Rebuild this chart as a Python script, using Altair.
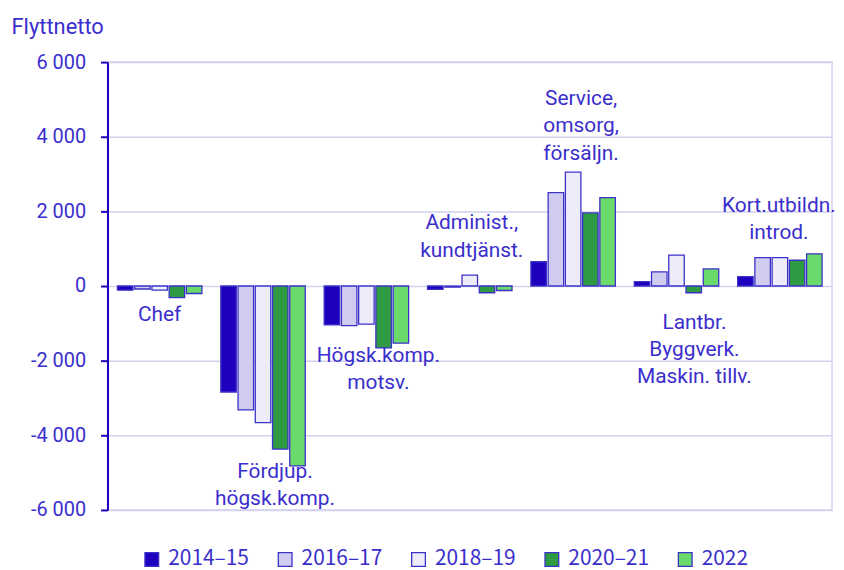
import altair as alt
import pandas as pd

categories = ["Chef", "Fördjup. högsk.komp.", "Högsk.komp. motsv.", "Administ., kundtjänst.",
              "Service, omsorg, försäljn.", "Lantbr. Byggverk. Maskin. tillv.", "Kort.utbildn. introd."]
periods = ["2014–15", "2016–17", "2018–19", "2020–21", "2022"]
values = {
    "2014–15": [-110, -2840, -1040, -90, 650, 120, 250],
    "2016–17": [-80, -3320, -1060, -30, 2500, 380, 760],
    "2018–19": [-110, -3660, -1020, 290, 3050, 830, 760],
    "2020–21": [-310, -4370, -1660, -180, 1960, -180, 690],
    "2022":    [-200, -4820, -1530, -120, 2370, 460, 860],
}
colors = ["#1E00BE", "#D0CCF0", "#EEECFB", "#2E9B42", "#6ADB6A"]

label_lines = [["Chef"], ["Fördjup.", "högsk.komp."], ["Högsk.komp.", "motsv."], ["Administ.,", "kundtjänst."],
               ["Service,", "omsorg,", "försäljn."], ["Lantbr.", "Byggverk.", "Maskin. tillv."],
               ["Kort.utbildn.", "introd."]]
label_y = [-480, -4690, -1570, 1970, 5310, -690, 2450]
label_dx = [0, 12, 12, 2, 8, 18, -1]

TXT = "#3A2ECC"
AX = "#1E00BE"
GRID = "#D3D1EE"

rows = []
for p in periods:
    for c, v in zip(categories, values[p]):
        rows.append({"cat": c, "period": p, "value": v})
df = pd.DataFrame(rows)
lab = pd.DataFrame({"cat": categories, "lines": label_lines, "ly": label_y})

xscale = alt.Scale(domain=categories, paddingInner=0.183, paddingOuter=0.096)
yscale = alt.Scale(domain=[-6000, 6000], nice=False)

bars = alt.Chart(df).mark_bar(stroke="#3C32C8", strokeWidth=1.3).encode(
    x=alt.X("cat:N", scale=xscale, sort=categories, axis=None),
    xOffset=alt.XOffset("period:N", sort=periods, scale=alt.Scale(paddingInner=0.1)),
    y=alt.Y("value:Q", scale=yscale, title="Flyttnetto",
            axis=alt.Axis(values=[-6000, -4000, -2000, 0, 2000, 4000, 6000],
                          labelExpr="(datum.value < 0 ? '-' : '') + replace(format(abs(datum.value), ',d'), ',', ' ')",
                          grid=True, gridColor=GRID, gridWidth=1.5,
                          domainColor=AX, domainWidth=2, tickColor=AX, tickWidth=2, tickSize=7,
                          labelColor=TXT, labelFontSize=20, labelFont="Roboto", labelPadding=15,
                          titleColor=TXT, titleFontSize=22, titleFont="Roboto", titleFontWeight="normal",
                          titleAngle=0, titleAlign="left", titleBaseline="middle", titleX=-97, titleY=-36)),
    color=alt.Color("period:N", sort=periods, scale=alt.Scale(domain=periods, range=colors),
                    legend=alt.Legend(title=None, orient="none", legendX=34, legendY=489, direction="horizontal",
                                      symbolType="square", symbolSize=190, symbolStrokeColor="#3C32C8",
                                      symbolStrokeWidth=1.3, labelFontSize=21, labelColor=TXT,
                                      labelFont="Noto Sans CJK JP", columnPadding=25, symbolOffset=0,
                                      labelOffset=6)),
)

layers = [bars]
for i, c in enumerate(categories):
    t = alt.Chart(lab).transform_filter(alt.datum.cat == c).mark_text(
        fontSize=21, font="Roboto", color=TXT, baseline="top", align="center",
        lineHeight=27.5, dx=label_dx[i]).encode(
        x=alt.X("cat:N", scale=xscale, sort=categories, axis=None),
        y=alt.Y("ly:Q", scale=yscale),
        text="lines",
    )
    layers.append(t)

chart = alt.layer(*layers).properties(
    width=728, height=450, autosize=alt.AutoSizeParams(type="none"),
    padding={"left": 100, "top": 53, "right": 4, "bottom": 62},
).configure_view(stroke=GRID, strokeWidth=1.5)

chart.save("out.html", embed_options={"renderer": "svg", "actions": False})
